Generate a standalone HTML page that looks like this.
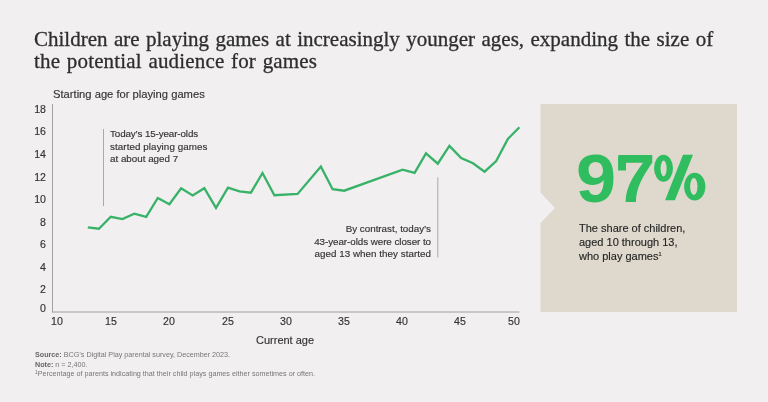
<!DOCTYPE html>
<html><head><meta charset="utf-8">
<style>
html,body{margin:0;padding:0;}
body{width:768px;height:402px;background:#f1eff0;position:relative;overflow:hidden;font-family:"Liberation Sans",sans-serif;color:#333;}
.a{position:absolute;white-space:nowrap;will-change:transform;}
.ann,.yt,.xt,#ylab,#xlab,#share{-webkit-text-stroke:0.15px #333;}
#title{left:34px;top:27.9px;font-family:"Liberation Serif",serif;font-size:21px;line-height:22.4px;letter-spacing:0px;word-spacing:1.2px;color:#2e2e2e;-webkit-text-stroke:0.3px #2e2e2e;}
#ylab{left:53px;top:87.6px;font-size:11.2px;line-height:13px;}
.yt{font-size:10.6px;line-height:12px;text-align:right;width:30px;left:16px;}
.xt{font-size:10.6px;line-height:12px;text-align:center;width:30px;}
#xlab{left:256px;top:334px;font-size:11px;line-height:13px;}
.ann{font-size:9.8px;line-height:12.65px;}
#foot{left:35px;top:349.5px;font-size:7.2px;line-height:9.5px;color:#777;}
#foot b{color:#666;}
#box{left:0;top:0;}
#pct{left:576px;top:141px;font-weight:bold;font-size:68.5px;line-height:76px;color:#30bd5f;letter-spacing:-0.94px;transform:scaleX(1.055);transform-origin:0 0;}
#share{left:579px;top:220.7px;font-size:11px;line-height:14.15px;color:#222;}
</style></head><body>
<div class="a" id="title">Children are playing games at increasingly younger ages, expanding the size of<br><span style="letter-spacing:0.17px">the potential audience for games</span></div>
<div class="a" id="ylab">Starting age for playing games</div>
<svg class="a" style="left:0;top:0" width="768" height="402" viewBox="0 0 768 402">
  <polygon points="540.5,104 737,104 737,312 540.5,312 540.5,223 555,208 540.5,192.5" fill="#ded8cd"/>
  <g fill="#30bd5f" fill-rule="evenodd"><path d="M654,168.2 a9.5,13.5 0 1,0 19,0 a9.5,13.5 0 1,0 -19,0 Z M660.6,168.5 a3,7.9 0 1,0 6,0 a3,7.9 0 1,0 -6,0 Z"/><path d="M684.1,186.6 a10.65,13.95 0 1,0 21.3,0 a10.65,13.95 0 1,0 -21.3,0 Z M690.1,186.5 a3.7,8.5 0 1,0 7.4,0 a3.7,8.5 0 1,0 -7.4,0 Z"/><polygon points="683,154.7 693,154.7 674.9,200.2 665.1,200.2"/><rect x="618.1" y="157" width="7.9" height="13.5"/></g>
  <line x1="52.5" y1="104" x2="52.5" y2="312.5" stroke="#a2a2a2" stroke-width="1"/>
  <line x1="52" y1="312" x2="519.5" y2="312" stroke="#a0a0a0" stroke-width="1"/>
  <line x1="103.5" y1="129" x2="103.5" y2="206" stroke="#aaa" stroke-width="1"/>
  <line x1="437.8" y1="177.4" x2="437.8" y2="257.5" stroke="#aaa" stroke-width="1"/>
  <polyline fill="none" stroke="#38b268" stroke-width="2.3" stroke-linejoin="miter" points="87.8,227.4 98.9,228.7 110.8,216.8 122.4,219.1 134.3,213.7 146.2,216.8 157.8,198 169.4,204.3 181.1,188.2 192.7,195.4 204.3,188.2 216,207.9 228,187.7 239.5,191.4 250.9,192.7 262.5,173 274.4,195.2 297.6,193.9 320.9,166.6 332.6,189.2 344.2,190.7 402.6,169.6 414.6,172.9 426,153.3 437.8,163.7 449.4,145.9 461.2,158 473,163.2 484.6,171.7 496.2,161.1 508,138.8 519.4,127.3"/>
</svg>
<div class="a yt" style="top:102.73px">18</div>
<div class="a yt" style="top:124.93px">16</div>
<div class="a yt" style="top:148.23px">14</div>
<div class="a yt" style="top:170.63px">12</div>
<div class="a yt" style="top:193.03px">10</div>
<div class="a yt" style="top:216.03px">8</div>
<div class="a yt" style="top:238.23px">6</div>
<div class="a yt" style="top:261.33px">4</div>
<div class="a yt" style="top:283.03px">2</div>
<div class="a yt" style="top:302.04px">0</div>
<div class="a xt" style="left:42.3px;top:315.2px">10</div>
<div class="a xt" style="left:96.4px;top:315.2px">15</div>
<div class="a xt" style="left:154.3px;top:315.2px">20</div>
<div class="a xt" style="left:213px;top:315.2px">25</div>
<div class="a xt" style="left:271px;top:315.2px">30</div>
<div class="a xt" style="left:329px;top:315.2px">35</div>
<div class="a xt" style="left:387px;top:315.2px">40</div>
<div class="a xt" style="left:445px;top:315.2px">45</div>
<div class="a xt" style="left:499px;top:315.2px">50</div>
<div class="a" id="xlab">Current age</div>
<div class="a ann" style="left:110px;top:128px"><span style="letter-spacing:-0.11px">Today’s 15-year-olds</span><br><span style="letter-spacing:0.08px">started playing games</span><br>at about aged 7</div>
<div class="a ann" style="left:231px;top:223.3px;text-align:right;width:200px">By contrast, today’s<br><span style="letter-spacing:-0.05px">43-year-olds were closer to</span><br><span style="letter-spacing:0.045px">aged 13 when they started</span></div>
<div class="a" id="pct">97</div>
<div class="a" id="share">The share of children,<br>aged 10 through 13,<br>who play games<span style="font-size:5.5px;position:relative;top:-4.6px;line-height:0">1</span></div>
<div class="a" id="foot"><b>Source:</b> BCG’s Digital Play parental survey, December 2023.<br><b>Note:</b> n = 2,400.<br><span style="font-size:5px;position:relative;top:-2px;line-height:0">1</span>Percentage of parents indicating that their child plays games either sometimes or often.</div>
</body></html>
